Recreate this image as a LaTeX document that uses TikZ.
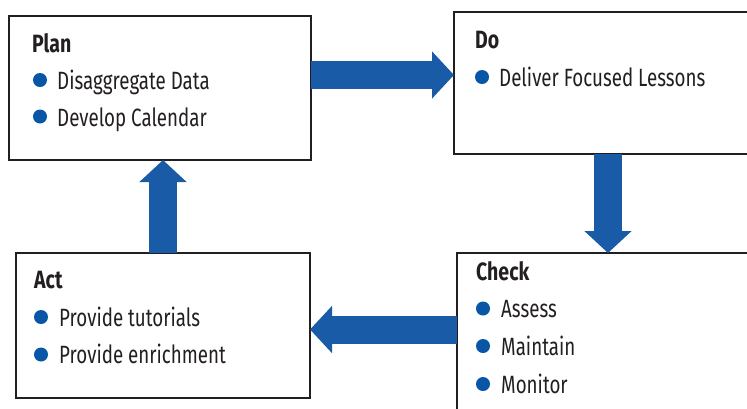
\documentclass[tikz,border=0pt]{standalone}
\usepackage{fontspec}
\setmainfont{Fira Sans}[FakeStretch=0.75, BoldFeatures={FakeStretch=0.78}]
\usetikzlibrary{arrows.meta}
\definecolor{arrowblue}{RGB}{26,91,167}
\definecolor{bulletblue}{RGB}{10,86,166}
\definecolor{ink}{RGB}{35,31,32}
\begin{document}
\begin{tikzpicture}[x=1pt,y=-1pt,
  box/.style={draw=ink, line width=2.6pt, fill=white, anchor=north west, inner sep=0pt, outer sep=0pt},
  title/.style={anchor=base west, inner sep=0pt, font=\fontsize{25}{29}\selectfont\bfseries, text=ink},
  item/.style={anchor=base west, inner sep=0pt, font=\fontsize{25}{29}\selectfont, text=ink},
  dot/.style={circle, fill=bulletblue, minimum size=14pt, inner sep=0pt},
  bigarrow/.style={draw=arrowblue, line width=28pt, -{Triangle[width=46pt,length=22pt]}}]
\useasboundingbox (0,0) rectangle (747,408);
\clip (0,0) rectangle (747,408);
% boxes
\node[box, minimum width=302pt, minimum height=144pt] (plan) at (9,16) {};
\node[box, minimum width=310pt, minimum height=142pt] (do) at (454,12) {};
\node[box, minimum width=310pt, minimum height=170pt] (check) at (457,253) {};
\node[box, minimum width=294pt, minimum height=145pt] (act) at (16,253) {};
% arrows
\draw[bigarrow] ([yshift=13pt]plan.east) -- ([yshift=13pt]plan.east -| do.west);
\draw[bigarrow] ([xshift=-1pt]do.south) -- ([xshift=-1pt]do.south |- check.north);
\draw[bigarrow] ([yshift=-4pt]act.east -| check.west) -- ([yshift=-4pt]act.east);
\draw[bigarrow] (act.north) -- (act.north |- plan.south);
% Plan
\node[title] (plant) at (32,52) {Plan};
\node[dot] (pd1) at (40,80) {};
\node[item] (pi1) at (57,89.5) {Disaggregate Data};
\node[dot] (pd2) at (40,116.5) {};
\node[item] (pi2) at (57,126.5) {Develop Calendar};
% Do
\node[title] (dot0) at (475,48) {Do};
\node[dot] (dd1) at (482,77) {};
\node[item] (di1) at (499,86) {Deliver Focused Lessons};
% Check
\node[title] (checkt) at (476,280) {Check};
\node[dot] (cd1) at (483,308.5) {};
\node[item] (ci1) at (501,317.5) {Assess};
\node[dot] (cd2) at (483,346) {};
\node[item] (ci2) at (501,355) {Maintain};
\node[dot] (cd3) at (483,384) {};
\node[item] (ci3) at (501,393) {Monitor};
% Act
\node[title] (actt) at (34,288) {Act};
\node[dot] (ad1) at (41,317) {};
\node[item] (ai1) at (59,326) {Provide tutorials};
\node[dot] (ad2) at (41,354.5) {};
\node[item] (ai2) at (59,363.5) {Provide enrichment};
\end{tikzpicture}
\end{document}
